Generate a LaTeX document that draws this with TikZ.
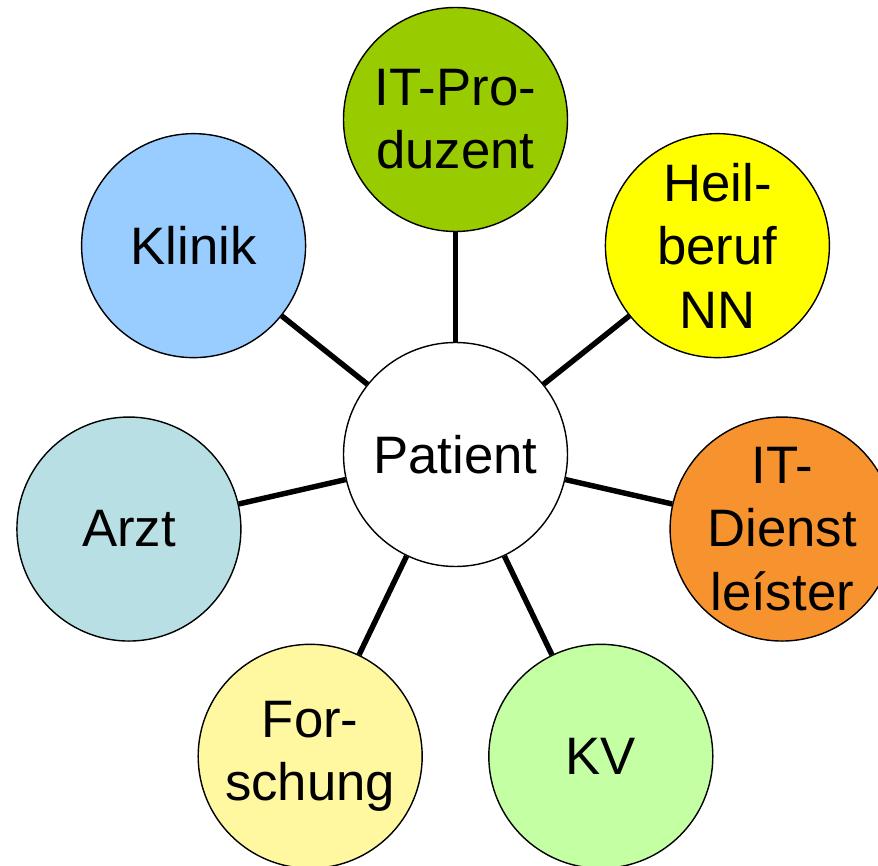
\documentclass[tikz,border=0pt]{standalone}
\usepackage{fontspec}
\setmainfont{Liberation Sans}
\definecolor{itprodgreen}{HTML}{99CC00}
\definecolor{heilyellow}{HTML}{FFFF00}
\definecolor{dienstorange}{HTML}{F7932F}
\definecolor{kvgreen}{HTML}{C4FFA4}
\definecolor{forschyellow}{HTML}{FFF8A0}
\definecolor{arztblue}{HTML}{B8DFE3}
\definecolor{klinikblue}{HTML}{99CCFF}

\begin{document}
\begin{tikzpicture}[
  member/.style={circle,draw,line width=0.8pt,minimum size=4.48cm,inner sep=0pt,
    align=center,font=\fontsize{30}{36}\selectfont},
  link/.style={line width=3.1pt}]
\useasboundingbox (-9.11,-8.21) rectangle (8.45,9.09);
%center
\node[member,fill=white] (patient) at (0,0) {Patient};
%outer ring
\node[member,fill=itprodgreen] (itprod) at (90:6.7) {IT-Pro-\\duzent};
\node[member,fill=heilyellow] (heil) at (38.57:6.7) {Heil-\\beruf\\NN};
\node[member,fill=dienstorange] (dienst) at (-12.86:6.7) {IT-\\Dienst\\leíster};
\node[member,fill=kvgreen] (kv) at (-64.29:6.7) {KV};
\node[member,fill=forschyellow] (forsch) at (-115.71:6.7) {For-\\schung};
\node[member,fill=arztblue] (arzt) at (-167.14:6.7) {Arzt};
\node[member,fill=klinikblue] (klinik) at (141.43:6.7) {Klinik};
%links
\draw[link] (patient) -- (itprod);
\draw[link] (patient) -- (heil);
\draw[link] (patient) -- (dienst);
\draw[link] (patient) -- (kv);
\draw[link] (patient) -- (forsch);
\draw[link] (patient) -- (arzt);
\draw[link] (patient) -- (klinik);
\end{tikzpicture}
\end{document}
